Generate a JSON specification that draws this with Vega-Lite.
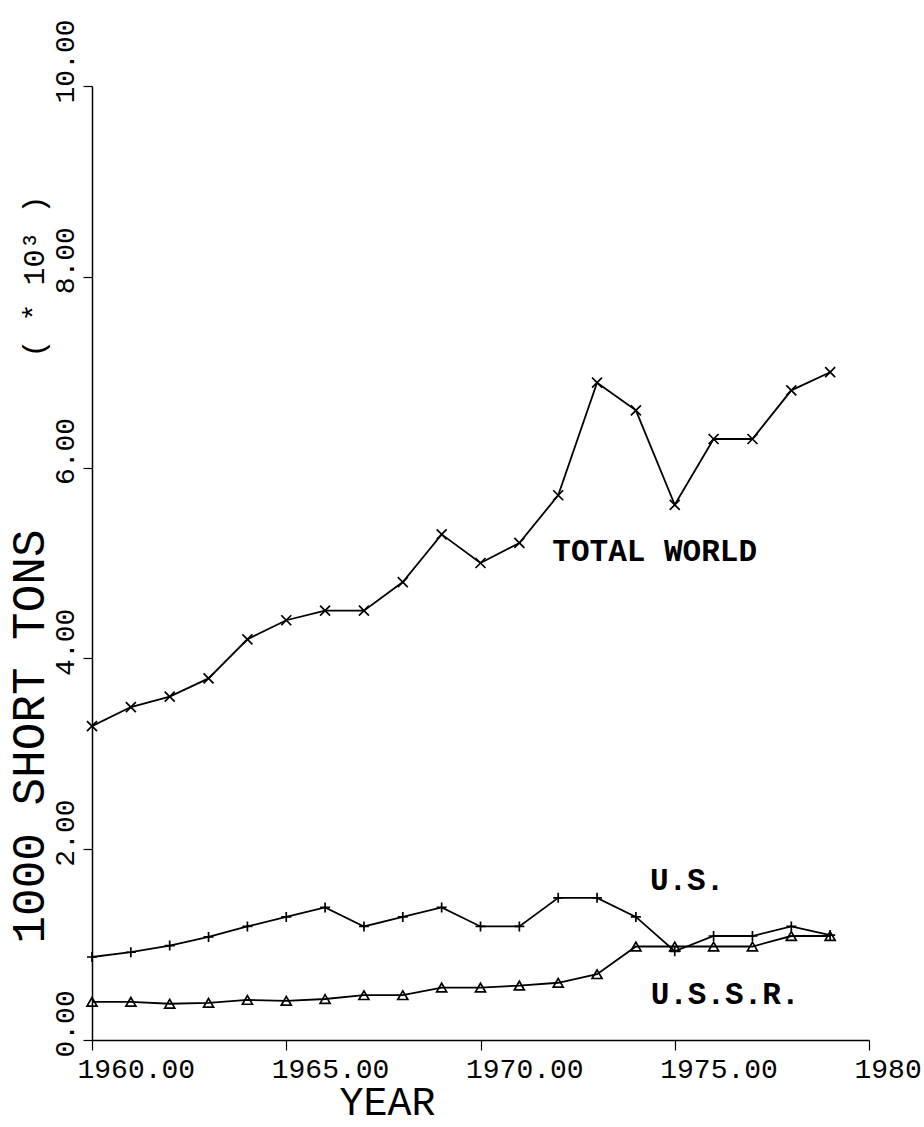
{
  "$schema": "https://vega.github.io/schema/vega-lite/v6.json",
  "width": 777,
  "height": 954,
  "autosize": {"type": "none"},
  "padding": {"left": 92, "top": 86, "right": 55, "bottom": 87},
  "background": "white",
  "config": {
    "view": {"stroke": null},
    "font": "Liberation Mono",
    "axis": {
      "domainColor": "black",
      "domainWidth": 1.5,
      "tickColor": "black",
      "tickWidth": 1.2,
      "labelColor": "black",
      "titleColor": "black",
      "labelFont": "Liberation Mono",
      "titleFont": "Liberation Mono",
      "labelFontSize": 28,
      "titleFontWeight": "normal",
      "grid": false
    }
  },
  "datasets": {
    "series": [
      {"series": "TOTAL WORLD", "year": 1960, "value": 3.29},
      {"series": "TOTAL WORLD", "year": 1961, "value": 3.49},
      {"series": "TOTAL WORLD", "year": 1962, "value": 3.60},
      {"series": "TOTAL WORLD", "year": 1963, "value": 3.79},
      {"series": "TOTAL WORLD", "year": 1964, "value": 4.20},
      {"series": "TOTAL WORLD", "year": 1965, "value": 4.40},
      {"series": "TOTAL WORLD", "year": 1966, "value": 4.50},
      {"series": "TOTAL WORLD", "year": 1967, "value": 4.50},
      {"series": "TOTAL WORLD", "year": 1968, "value": 4.80},
      {"series": "TOTAL WORLD", "year": 1969, "value": 5.30},
      {"series": "TOTAL WORLD", "year": 1970, "value": 5.00},
      {"series": "TOTAL WORLD", "year": 1971, "value": 5.21},
      {"series": "TOTAL WORLD", "year": 1972, "value": 5.71},
      {"series": "TOTAL WORLD", "year": 1973, "value": 6.89},
      {"series": "TOTAL WORLD", "year": 1974, "value": 6.60},
      {"series": "TOTAL WORLD", "year": 1975, "value": 5.61},
      {"series": "TOTAL WORLD", "year": 1976, "value": 6.30},
      {"series": "TOTAL WORLD", "year": 1977, "value": 6.30},
      {"series": "TOTAL WORLD", "year": 1978, "value": 6.81},
      {"series": "TOTAL WORLD", "year": 1979, "value": 7.00},
      {"series": "U.S.", "year": 1960, "value": 0.87},
      {"series": "U.S.", "year": 1961, "value": 0.92},
      {"series": "U.S.", "year": 1962, "value": 0.99},
      {"series": "U.S.", "year": 1963, "value": 1.08},
      {"series": "U.S.", "year": 1964, "value": 1.19},
      {"series": "U.S.", "year": 1965, "value": 1.29},
      {"series": "U.S.", "year": 1966, "value": 1.39},
      {"series": "U.S.", "year": 1967, "value": 1.19},
      {"series": "U.S.", "year": 1968, "value": 1.29},
      {"series": "U.S.", "year": 1969, "value": 1.39},
      {"series": "U.S.", "year": 1970, "value": 1.19},
      {"series": "U.S.", "year": 1971, "value": 1.19},
      {"series": "U.S.", "year": 1972, "value": 1.49},
      {"series": "U.S.", "year": 1973, "value": 1.49},
      {"series": "U.S.", "year": 1974, "value": 1.29},
      {"series": "U.S.", "year": 1975, "value": 0.93},
      {"series": "U.S.", "year": 1976, "value": 1.09},
      {"series": "U.S.", "year": 1977, "value": 1.09},
      {"series": "U.S.", "year": 1978, "value": 1.19},
      {"series": "U.S.", "year": 1979, "value": 1.10},
      {"series": "U.S.S.R.", "year": 1960, "value": 0.40},
      {"series": "U.S.S.R.", "year": 1961, "value": 0.40},
      {"series": "U.S.S.R.", "year": 1962, "value": 0.38},
      {"series": "U.S.S.R.", "year": 1963, "value": 0.39},
      {"series": "U.S.S.R.", "year": 1964, "value": 0.42},
      {"series": "U.S.S.R.", "year": 1965, "value": 0.41},
      {"series": "U.S.S.R.", "year": 1966, "value": 0.43},
      {"series": "U.S.S.R.", "year": 1967, "value": 0.47},
      {"series": "U.S.S.R.", "year": 1968, "value": 0.47},
      {"series": "U.S.S.R.", "year": 1969, "value": 0.55},
      {"series": "U.S.S.R.", "year": 1970, "value": 0.55},
      {"series": "U.S.S.R.", "year": 1971, "value": 0.57},
      {"series": "U.S.S.R.", "year": 1972, "value": 0.60},
      {"series": "U.S.S.R.", "year": 1973, "value": 0.69},
      {"series": "U.S.S.R.", "year": 1974, "value": 0.98},
      {"series": "U.S.S.R.", "year": 1975, "value": 0.98},
      {"series": "U.S.S.R.", "year": 1976, "value": 0.98},
      {"series": "U.S.S.R.", "year": 1977, "value": 0.98},
      {"series": "U.S.S.R.", "year": 1978, "value": 1.09},
      {"series": "U.S.S.R.", "year": 1979, "value": 1.09}
    ],
    "labels": [
      {"label": "TOTAL WORLD", "year": 1971.85, "value": 5.12},
      {"label": "U.S.", "year": 1974.36, "value": 1.67},
      {"label": "U.S.S.R.", "year": 1974.38, "value": 0.47}
    ]
  },
  "layer": [
    {
      "data": {"name": "series"},
      "encoding": {
        "x": {
          "field": "year",
          "type": "quantitative",
          "scale": {"domain": [1960, 1980], "nice": false, "zero": false},
          "axis": {
            "title": "YEAR",
            "values": [1960, 1965, 1970, 1975, 1980],
            "format": ".2f",
            "labelAlign": "left",
            "labelBaseline": "top",
            "labelOffset": -15,
            "labelPadding": 5,
            "tickSize": 10,
            "labelFlush": false,
            "labelOverlap": false,
            "labelBound": false,
            "titleX": 295,
            "titleY": 74,
            "titleAlign": "center",
            "titleBaseline": "alphabetic",
            "titleFontSize": 40
          }
        },
        "y": {
          "field": "value",
          "type": "quantitative",
          "scale": {"domain": [0, 10], "nice": false},
          "axis": {
            "title": "1000 SHORT TONS",
            "values": [0, 2, 4, 6, 8, 10],
            "format": ".2f",
            "labelAngle": 270,
            "labelAlign": "left",
            "labelBaseline": "alphabetic",
            "labelOffset": 17,
            "labelPadding": 10,
            "tickSize": 9,
            "labelOverlap": false,
            "labelBound": false,
            "labelFlush": false,
            "titleAngle": 270,
            "titleX": -49,
            "titleY": 650,
            "titleAlign": "center",
            "titleBaseline": "alphabetic",
            "titleFontSize": 46
          }
        }
      },
      "layer": [
        {
          "mark": {"type": "line", "color": "black", "strokeWidth": 1.8},
          "encoding": {"detail": {"field": "series"}}
        },
        {
          "mark": {"type": "point", "filled": false, "color": "black", "strokeWidth": 1.7, "size": 100, "opacity": 1},
          "encoding": {
            "shape": {
              "field": "series",
              "scale": {
                "domain": ["TOTAL WORLD", "U.S.", "U.S.S.R."],
                "range": ["M-1,-1L1,1M-1,1L1,-1", "M-1,0L1,0M0,-1L0,1", "triangle-up"]
              },
              "legend": null
            }
          }
        }
      ]
    },
    {
      "data": {"name": "labels"},
      "mark": {"type": "text", "align": "left", "baseline": "middle", "font": "Liberation Mono", "fontWeight": "bold", "fontSize": 31, "color": "black"},
      "encoding": {
        "x": {
          "field": "year",
          "type": "quantitative",
          "scale": {"domain": [1960, 1980], "nice": false, "zero": false}
        },
        "y": {
          "field": "value",
          "type": "quantitative",
          "scale": {"domain": [0, 10], "nice": false},
          "axis": {
            "orient": "left",
            "title": "( * 10³ )",
            "domain": false,
            "ticks": false,
            "labels": false,
            "grid": false,
            "titleAngle": 270,
            "titleX": -49,
            "titleY": 190,
            "titleAlign": "center",
            "titleBaseline": "alphabetic",
            "titleFontSize": 30
          }
        },
        "text": {"field": "label"}
      }
    }
  ],
  "resolve": {"scale": {"y": "independent"}, "axis": {"y": "independent"}}
}
